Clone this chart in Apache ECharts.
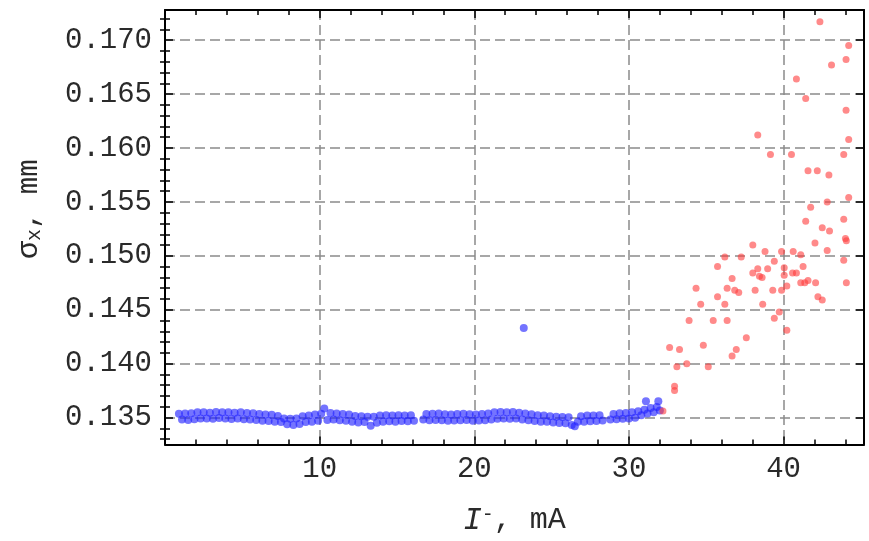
<!DOCTYPE html>
<html>
<head>
<meta charset="utf-8">
<script src="https://cdn.jsdelivr.net/npm/echarts@6/dist/echarts.min.js"></script>
<style>
  html, body { margin: 0; padding: 0; background: #fff; }
  #chart { width: 869px; height: 541px; }
</style>
</head>
<body>
<div id="chart"></div>
<script>
  // axis ticks
  const xTicks = [10, 20, 30, 40];
  const xMinor = [2, 4, 6, 8, 12, 14, 16, 18, 22, 24, 26, 28, 32, 34, 36, 38, 42, 44];
  const yTicks = [0.135, 0.140, 0.145, 0.150, 0.155, 0.160, 0.165, 0.170];
  const yMinor = [0.133, 0.134, 0.136, 0.137, 0.138, 0.139, 0.141, 0.142, 0.143, 0.144,
    0.146, 0.147, 0.148, 0.149, 0.151, 0.152, 0.153, 0.154, 0.156, 0.157, 0.158, 0.159,
    0.161, 0.162, 0.163, 0.164, 0.166, 0.167, 0.168, 0.169, 0.171, 0.172];

  // blue: stable beam
  const blueI = [
    0.9, 1.1, 1.3, 1.5, 1.7, 1.9, 2.1, 2.3, 2.5, 2.7, 2.9, 3.1, 3.3, 3.5, 3.7, 3.9,
    4.1, 4.3, 4.5, 4.7, 4.9, 5.1, 5.3, 5.5, 5.7, 5.9, 6.1, 6.3, 6.5, 6.7, 6.9, 7.1,
    7.3, 7.5, 7.7, 7.9, 8.1, 8.3, 8.5, 8.7, 8.9, 9.1, 9.3, 9.5, 9.7, 9.9, 10.1, 10.3,
    10.5, 10.7, 10.9, 11.1, 11.3, 11.5, 11.7, 11.9, 12.1, 12.3, 12.5, 12.7, 12.9, 13.1,
    13.3, 13.5, 13.7, 13.9, 14.1, 14.3, 14.5, 14.7, 14.9, 15.1, 15.3, 15.5, 15.7, 15.9,
    16.1, 16.7, 16.9, 17.1, 17.3, 17.5, 17.7, 17.9, 18.1, 18.3, 18.5, 18.7, 18.9, 19.1,
    19.3, 19.5, 19.7, 19.9, 20.1, 20.3, 20.5, 20.7, 20.9, 21.1, 21.3, 21.5, 21.7, 21.9,
    22.1, 22.3, 22.5, 22.7, 22.9, 23.1, 23.2, 23.3, 23.5, 23.7, 23.9, 24.1, 24.3, 24.5,
    24.7, 24.9, 25.1, 25.3, 25.5, 25.7, 25.9, 26.1, 26.3, 26.5, 26.7, 26.9, 27.1, 27.3,
    27.5, 27.7, 27.9, 28.1, 28.3, 28.8, 29.0, 29.2, 29.4, 29.6, 29.8, 30.0, 30.2, 30.4,
    30.6, 30.8, 31.0, 31.1, 31.2, 31.4, 31.6, 31.8, 31.9, 32.0
  ];
  const blueSigma = [
    0.13535, 0.13482, 0.13538, 0.13478, 0.13540, 0.13485, 0.13548, 0.13490, 0.13550, 0.13492, 0.13545, 0.13488, 0.13552, 0.13495, 0.13548, 0.13490,
    0.13548, 0.13486, 0.13545, 0.13490, 0.13548, 0.13484, 0.13542, 0.13482, 0.13540, 0.13478, 0.13532, 0.13470, 0.13528, 0.13468, 0.13525, 0.13462,
    0.13515, 0.13458, 0.13490, 0.13438, 0.13488, 0.13432, 0.13490, 0.13440, 0.13512, 0.13458, 0.13518, 0.13462, 0.13528, 0.13470, 0.13535, 0.13585,
    0.13478, 0.13542, 0.13482, 0.13538, 0.13475, 0.13532, 0.13470, 0.13528, 0.13460, 0.13515, 0.13455, 0.13512, 0.13458, 0.13508,
    0.13425, 0.13508, 0.13452, 0.13518, 0.13462, 0.13522, 0.13465, 0.13520, 0.13462, 0.13522, 0.13468, 0.13520, 0.13465, 0.13522,
    0.13470, 0.13482, 0.13532, 0.13475, 0.13535, 0.13478, 0.13538, 0.13475, 0.13530, 0.13470, 0.13528, 0.13472, 0.13532, 0.13475,
    0.13535, 0.13478, 0.13530, 0.13470, 0.13528, 0.13472, 0.13532, 0.13475, 0.13538, 0.13482, 0.13548, 0.13488, 0.13552, 0.13490,
    0.13548, 0.13488, 0.13552, 0.13490, 0.13545, 0.13482, 0.14330, 0.13538, 0.13475, 0.13530, 0.13468, 0.13522, 0.13462, 0.13520,
    0.13460, 0.13512, 0.13455, 0.13508, 0.13450, 0.13505, 0.13448, 0.13502, 0.13432, 0.13420, 0.13462, 0.13512, 0.13460, 0.13518,
    0.13465, 0.13520, 0.13468, 0.13522, 0.13472, 0.13482, 0.13532, 0.13485, 0.13540, 0.13488, 0.13542, 0.13490, 0.13548, 0.13498,
    0.13558, 0.13522, 0.13572, 0.13650, 0.13538, 0.13588, 0.13548, 0.13598, 0.13650, 0.13565
  ];

  // red: unstable beam
  const redI = [
    32.2, 32.95, 32.95, 32.63, 33.27, 33.1, 33.74, 33.89, 34.34, 34.64, 34.81, 35.13,
    35.45, 35.73, 35.73, 36.2, 36.2, 36.35, 36.35, 36.67, 36.84, 37.1, 36.67, 36.94,
    37.26, 37.59, 38.01, 38.01, 38.16, 38.33, 38.44, 38.61, 38.65, 38.8, 38.97, 39.3,
    39.4, 39.4, 39.72, 39.87, 39.87, 40.04, 40.04, 40.21, 40.21, 40.62, 40.58, 40.83,
    41.11, 41.26, 41.11, 41.37, 41.58, 42.07, 42.22, 42.5, 42.03, 42.5, 42.97, 42.82,
    41.43, 41.75, 42.82, 43.89, 44.0, 44.06, 43.89, 44.06, 42.35, 44.21, 44.04, 43.1,
    40.83, 41.43, 44.04, 44.21, 38.33, 39.15, 40.51, 43.89, 41.58, 42.18, 42.93, 44.21
  ];
  const redSigma = [
    0.1356, 0.1379, 0.1375, 0.1415, 0.1413, 0.1397, 0.1400, 0.1440, 0.1470, 0.1455, 0.1417, 0.1397,
    0.1440, 0.1490, 0.1462, 0.1499, 0.1455, 0.1470, 0.1440, 0.1479, 0.1468, 0.1466, 0.1407, 0.1413,
    0.1499, 0.1424, 0.1510, 0.1484, 0.1468, 0.1488, 0.1481, 0.1480, 0.1455, 0.1504, 0.1488, 0.1468,
    0.1495, 0.1442, 0.1448, 0.1504, 0.1468, 0.1489, 0.1482, 0.1472, 0.1431, 0.1504, 0.1484, 0.1484,
    0.1501, 0.1490, 0.1475, 0.1475, 0.1477, 0.1475, 0.1462, 0.1459, 0.1512, 0.1526, 0.1523, 0.1505,
    0.1532, 0.1545, 0.1550, 0.1534, 0.1516, 0.1514, 0.1496, 0.1475, 0.1717, 0.1695, 0.1682, 0.1677,
    0.1664, 0.1646, 0.1635, 0.1608, 0.1612, 0.1594, 0.1594, 0.1594, 0.1579, 0.1579, 0.1575, 0.1554
  ];

  const FONT = '"Liberation Mono", "Courier New", monospace';
  const X_MIN = 0, X_MAX = 45.2;
  const Y_MIN = 0.1325, Y_MAX = 0.1728;

  function tickAxis(pos, values, len, min, max) {
    return {
      type: 'value',
      position: pos,
      min: min,
      max: max,
      axisLine: {show: false},
      splitLine: {show: false},
      axisLabel: {show: false},
      axisTick: {
        show: true,
        inside: true,
        length: len,
        customValues: values,
        lineStyle: {color: '#000', width: 1.5}
      }
    };
  }

  const frameLine = {show: true, onZero: false, lineStyle: {color: '#000', width: 2}};
  const gridDash = {show: true, lineStyle: {color: '#8a8a8a', width: 1.5, type: [10, 5]}};

  const xMain = tickAxis('bottom', xTicks, 8, X_MIN, X_MAX);
  xMain.axisLine = frameLine;
  xMain.splitLine = gridDash;
  xMain.axisLabel = {
    show: true, customValues: xTicks, margin: 10,
    fontFamily: FONT, fontSize: 29, color: '#2a2a2a'
  };
  xMain.name = '{i|I}{sup|-}{s|, mA}';
  xMain.nameLocation = 'middle';
  xMain.nameGap = 60;
  xMain.nameTextStyle = {
    rich: {
      i: {fontFamily: FONT, fontSize: 31, fontStyle: 'italic', color: '#2a2a2a'},
      sup: {fontFamily: FONT, fontSize: 20, color: '#2a2a2a', verticalAlign: 'top', padding: [0, 0, 12, 0]},
      s: {fontFamily: FONT, fontSize: 30, color: '#2a2a2a'}
    }
  };
  const xTop = tickAxis('top', xTicks, 8, X_MIN, X_MAX);
  xTop.axisLine = frameLine;

  const yMain = tickAxis('left', yTicks, 8, Y_MIN, Y_MAX);
  yMain.axisLine = frameLine;
  yMain.splitLine = gridDash;
  yMain.axisLabel = {
    show: true, customValues: yTicks, margin: 13,
    fontFamily: FONT, fontSize: 29, color: '#2a2a2a',
    formatter: v => v.toFixed(3)
  };
  yMain.name = '{g|σ}{sub|x}{s|, mm}';
  yMain.nameLocation = 'middle';
  yMain.nameGap = 120;
  yMain.nameTextStyle = {
    padding: [0, 0, 0, 36],
    rich: {
      g: {fontFamily: FONT, fontSize: 30, color: '#2a2a2a'},
      sub: {fontFamily: FONT, fontSize: 20, color: '#2a2a2a', padding: [12, 0, 0, 0]},
      s: {fontFamily: FONT, fontSize: 29, color: '#2a2a2a'}
    }
  };
  const yRight = tickAxis('right', yTicks, 8, Y_MIN, Y_MAX);
  yRight.axisLine = frameLine;

  const chart = echarts.init(document.getElementById('chart'));
  chart.setOption({
    animation: false,
    backgroundColor: '#fff',
    grid: {left: 165, right: 5, top: 10, bottom: 96},
    xAxis: [
      xMain,
      tickAxis('bottom', xMinor, 5, X_MIN, X_MAX),
      xTop,
      tickAxis('top', xMinor, 5, X_MIN, X_MAX)
    ],
    yAxis: [
      yMain,
      tickAxis('left', yMinor, 5, Y_MIN, Y_MAX),
      yRight,
      tickAxis('right', yMinor, 5, Y_MIN, Y_MAX)
    ],
    series: [
      {
        type: 'scatter',
        symbolSize: 8,
        itemStyle: {color: '#1e1eff', opacity: 0.62},
        data: blueI.map((x, i) => [x, blueSigma[i]])
      },
      {
        type: 'scatter',
        symbolSize: 7,
        itemStyle: {color: '#ff3c3c', opacity: 0.6},
        data: redI.map((x, i) => [x, redSigma[i]])
      }
    ]
  });
</script>
</body>
</html>
